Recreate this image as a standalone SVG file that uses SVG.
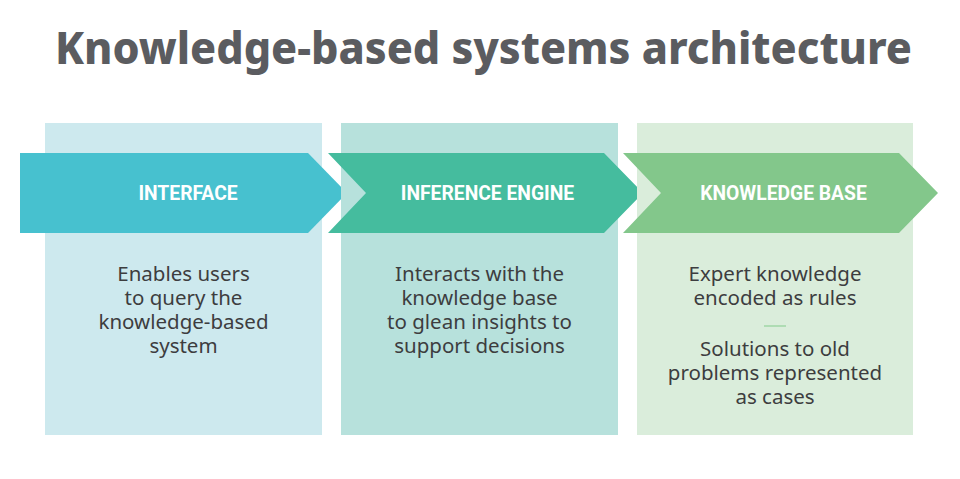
<svg xmlns="http://www.w3.org/2000/svg" width="960" height="479" viewBox="0 0 960 479">
<style>
.title{font-family:"Noto Sans","Open Sans",sans-serif;font-weight:800;font-size:45px;fill:#5b5c60}
.lbl{font-family:Roboto,"Noto Sans",sans-serif;font-weight:700;font-size:19.3px;fill:#ffffff;text-anchor:middle}
.body{font-family:"Noto Sans","Open Sans",sans-serif;font-size:20.5px;fill:#3d3d3f;text-anchor:middle}
</style>
<rect width="960" height="479" fill="#ffffff"/>
<text class="title" x="55" y="64" textLength="857" lengthAdjust="spacingAndGlyphs">Knowledge-based systems architecture</text>
<g id="interface">
<rect x="45" y="123" width="277" height="312" fill="#cde9ee"/>
<polygon points="20,153 308,153 347,193 308,233 20,233" fill="#47c1cf"/>
<text class="lbl" x="188" y="200">INTERFACE</text>
<text class="body" x="183.5"><tspan x="183.5" y="281">Enables users</tspan><tspan x="183.5" y="305">to query the</tspan><tspan x="183.5" y="329">knowledge-based</tspan><tspan x="183.5" y="353">system</tspan></text>
</g>
<g id="inference-engine">
<rect x="341" y="123" width="277" height="312" fill="#b7e1dc"/>
<polygon points="328,153 604,153 643,193 604,233 328,233 366,193" fill="#45bc9e"/>
<text class="lbl" x="487.5" y="200">INFERENCE ENGINE</text>
<text class="body" x="479.5"><tspan x="479.5" y="281">Interacts with the</tspan><tspan x="479.5" y="305">knowledge base</tspan><tspan x="479.5" y="329">to glean insights to</tspan><tspan x="479.5" y="353">support decisions</tspan></text>
</g>
<g id="knowledge-base">
<rect x="637" y="123" width="276" height="312" fill="#daeddb"/>
<polygon points="623,153 899,153 938,193 899,233 623,233 661,193" fill="#83c78b"/>
<text class="lbl" x="783.5" y="200">KNOWLEDGE BASE</text>
<text class="body" x="775"><tspan x="775" y="281">Expert knowledge</tspan><tspan x="775" y="305">encoded as rules</tspan></text>
<line x1="764" y1="326" x2="786" y2="326" stroke="#9fd6a6" stroke-width="1.5"/>
<text class="body" x="775"><tspan x="775" y="356">Solutions to old</tspan><tspan x="775" y="380">problems represented</tspan><tspan x="775" y="404">as cases</tspan></text>
</g>
<g id="connectors"></g>
</svg>
